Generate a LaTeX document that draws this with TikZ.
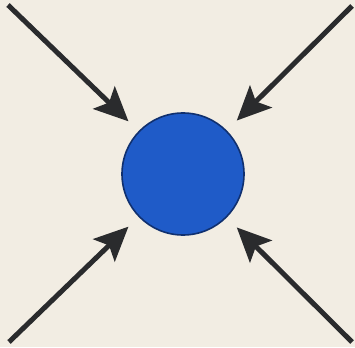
\documentclass[tikz,border=0pt]{standalone}
\usetikzlibrary{arrows.meta}
\definecolor{paper}{HTML}{F2EDE3}
\definecolor{coreblue}{HTML}{1F5BC8}
\definecolor{coreedge}{HTML}{10306F}
\definecolor{ink}{HTML}{2A2B2D}
\tikzset{
  core/.style={circle,draw=coreedge,line width=1.6pt,fill=coreblue,minimum size=122pt,inner sep=0pt},
  push/.style={ink,line width=5pt,-{Stealth[length=34pt,width=31pt,inset=7pt]},shorten >=14pt},
}
\begin{document}
\begin{tikzpicture}[x=1pt,y=-1pt]
  % ---- canvas ----
  \fill[paper] (0,0) rectangle (355,347);
  \useasboundingbox (0,0) rectangle (355,347);
  % ---- centre ----
  \node[core] (core) at (183,174) {};
  % ---- corners ----
  \coordinate (nw) at (8,5);
  \coordinate (ne) at (352,6);
  \coordinate (sw) at (9,342);
  \coordinate (se) at (352,342);
  % ---- arrows ----
  \draw[push] (nw) -- (core);
  \draw[push] (ne) -- (core);
  \draw[push] (sw) -- (core);
  \draw[push] (se) -- (core);
\end{tikzpicture}
\end{document}
